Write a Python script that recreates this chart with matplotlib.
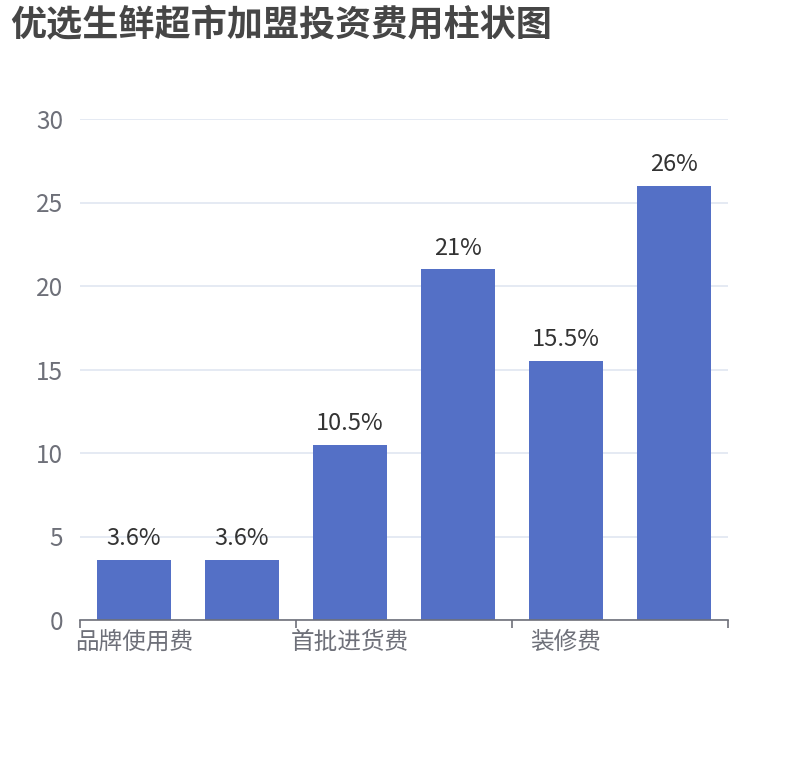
import matplotlib
matplotlib.use('Agg')
import matplotlib.pyplot as plt

plt.rcParams['font.family'] = ['Noto Sans CJK SC', 'DejaVu Sans']

# chart data
title = '优选生鲜超市加盟投资费用柱状图'
categories = ['品牌使用费', '保证金', '首批进货费', '设备费', '装修费', '其他费用']
values = [3.6, 3.6, 10.5, 21, 15.5, 26]
value_labels = ['3.6%', '3.6%', '10.5%', '21%', '15.5%', '26%']
y_ticks = [0, 5, 10, 15, 20, 25, 30]

bar_color = '#5470c6'
axis_color = '#6e7079'
grid_color = '#e0e6f1'

fig = plt.figure(figsize=(8.1, 7.6), dpi=100)
ax = fig.add_axes([80 / 810, 1 - 620 / 760, 648 / 810, 501 / 760])

x = list(range(len(categories)))
ax.bar(x, values, width=0.69, color=bar_color, zorder=3)
for xi, v, lab in zip(x, values, value_labels):
    ax.annotate(lab, (xi, v), xytext=(0, 7), textcoords='offset points',
                ha='center', va='bottom', fontsize=17, color='#333333')

ax.set_xlim(-0.5, len(categories) - 0.5)
ax.set_ylim(0, 30)
ax.set_yticks(y_ticks)
ax.set_yticklabels([str(t) for t in y_ticks])
ax.yaxis.grid(True, color=grid_color, linewidth=1.2, zorder=0)
ax.tick_params(axis='y', length=0, pad=12, labelsize=17.5, labelcolor=axis_color)

# ticks on band boundaries every two categories, labels only on shown ones
ax.set_xticks([-0.5, 1.5, 3.5, 5.5])
ax.set_xticklabels([])
ax.set_xticks(x[::2], minor=True)
ax.set_xticklabels(categories[::2], minor=True)
ax.tick_params(axis='x', which='major', length=6, width=1.2, color=axis_color)
ax.tick_params(axis='x', which='minor', length=0, pad=8, labelsize=17, labelcolor=axis_color)

for side in ['top', 'right', 'left']:
    ax.spines[side].set_visible(False)
ax.spines['bottom'].set_color(axis_color)
ax.spines['bottom'].set_linewidth(1.2)
ax.spines['bottom'].set_zorder(4)

fig.text(10 / 810, 1 - 26 / 760, title, fontsize=26, fontweight='bold',
         color='#464646', ha='left', va='center')

fig.savefig('out.png', dpi=100)
